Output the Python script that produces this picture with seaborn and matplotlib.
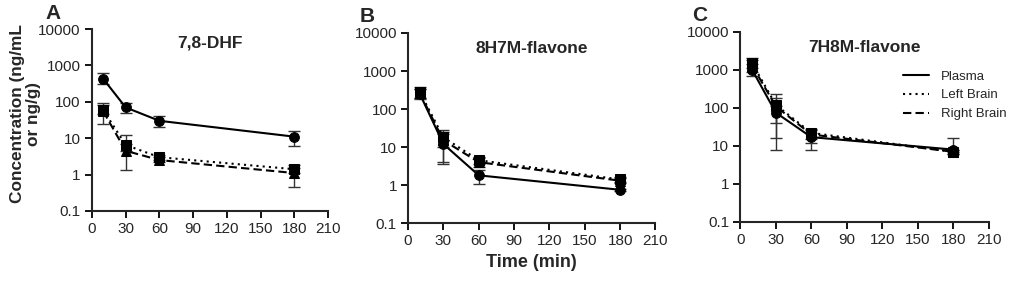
import numpy as np
import pandas as pd
import matplotlib
matplotlib.use("Agg")
import matplotlib.pyplot as plt
import seaborn as sns

# Donnees
time = [10, 30, 60, 180]
tissues = ["Plasma", "Left Brain", "Right Brain"]
compounds = ["7,8-DHF", "8H7M-flavone", "7H8M-flavone"]
panel_letters = ["A", "B", "C"]

# moyennes
dhf_mean = {"Plasma": [430, 70, 30, 11],
            "Left Brain": [60, 6.5, 3.0, 1.4],
            "Right Brain": [55, 4.5, 2.5, 1.1]}
h7m_mean = {"Plasma": [250, 12, 1.8, 0.75],
            "Left Brain": [280, 18, 4.5, 1.4],
            "Right Brain": [260, 15, 4.0, 1.3]}
h8m_mean = {"Plasma": [1000, 75, 17, 8],
            "Left Brain": [1500, 120, 22, 7],
            "Right Brain": [1300, 110, 20, 7]}

# bornes des barres d'erreur (basse, haute)
dhf_lo = {"Plasma": [300, 50, 20, 6], "Left Brain": [45, 4.5, 2.5, 1.1], "Right Brain": [25, 1.3, 2.2, 0.45]}
dhf_hi = {"Plasma": [600, 95, 42, 16], "Left Brain": [90, 12, 3.5, 1.8], "Right Brain": [80, 7, 3.0, 1.5]}
h7m_lo = {"Plasma": [180, 4, 1.05, 0.7], "Left Brain": [200, 10, 3.5, 1.2], "Right Brain": [190, 3.6, 3.0, 1.1]}
h7m_hi = {"Plasma": [330, 22, 2.5, 0.8], "Left Brain": [370, 28, 5.5, 1.6], "Right Brain": [340, 25, 5.0, 1.5]}
h8m_lo = {"Plasma": [700, 8, 8, 7], "Left Brain": [1100, 16, 15, 6], "Right Brain": [900, 40, 12, 6]}
h8m_hi = {"Plasma": [1400, 110, 22, 16], "Left Brain": [2000, 230, 28, 8], "Right Brain": [1800, 180, 26, 8]}

means = [dhf_mean, h7m_mean, h8m_mean]
lows = [dhf_lo, h7m_lo, h8m_lo]
highs = [dhf_hi, h7m_hi, h8m_hi]

sns.set_style("ticks")
plt.rcParams["font.family"] = ["Liberation Sans", "DejaVu Sans"]

fig = plt.figure(figsize=(10.1, 2.82), dpi=100)
positions = [[0.091, 0.252, 0.234, 0.645],
             [0.404, 0.209, 0.245, 0.674],
             [0.733, 0.213, 0.246, 0.674]]

markers = {"Plasma": "o", "Left Brain": "s", "Right Brain": "^"}
dashes = {"Plasma": "", "Left Brain": (1, 2), "Right Brain": (4, 2)}

for i in range(3):
    ax = fig.add_axes(positions[i])
    rows = []
    for t in tissues:
        for x, y in zip(time, means[i][t]):
            rows.append({"Time": x, "Conc": y, "Tissue": t})
    df = pd.DataFrame(rows)

    for t in tissues:
        m = np.array(means[i][t])
        lo = m - np.array(lows[i][t])
        hi = np.array(highs[i][t]) - m
        ax.errorbar(time, m, yerr=[lo, hi], fmt="none", ecolor="#333333",
                    elinewidth=1.0, capsize=4, capthick=1.0, zorder=2)

    sns.lineplot(data=df, x="Time", y="Conc", style="Tissue", style_order=tissues,
                 markers=markers, dashes=dashes, color="black", linewidth=1.5,
                 markersize=7, markeredgecolor="black", ax=ax, legend=(i == 2), zorder=3)

    ax.set_yscale("log")
    ax.set_ylim(0.1, 10000)
    ax.set_xlim(0, 210)
    ax.set_xticks(range(0, 211, 30))
    ax.set_yticks([0.1, 1, 10, 100, 1000, 10000])
    ax.set_yticklabels(["0.1", "1", "10", "100", "1000", "10000"])
    ax.minorticks_off()
    ax.tick_params(axis="both", labelsize=11, width=1.3, length=5, color="black", pad=3)
    for s in ["left", "bottom"]:
        ax.spines[s].set_linewidth(1.5)
    sns.despine(ax=ax)

    ax.set_xlabel("")
    ax.set_ylabel("")
    ax.set_title(compounds[i], fontsize=12.5, fontweight="bold", y=0.85)
    ax.text(-0.195, 1.035, panel_letters[i], transform=ax.transAxes,
            fontsize=15, fontweight="bold", va="bottom", ha="left")

    if i == 0:
        ax.set_ylabel("Concentration (ng/mL\nor ng/g)", fontsize=12.4, fontweight="bold",
                      linespacing=1.05)
        ax.yaxis.set_label_coords(-0.215, 0.535)
    if i == 1:
        ax.set_xlabel("Time (min)", fontsize=13, fontweight="bold", labelpad=4)
    if i == 2:
        leg = ax.legend(loc="upper right", bbox_to_anchor=(1.12, 0.86), frameon=False,
                        fontsize=9.5, handlelength=2.0, labelspacing=0.5, handletextpad=0.9)
        for h in leg.legend_handles:
            h.set_marker("")

fig.savefig("out.png", dpi=100)
